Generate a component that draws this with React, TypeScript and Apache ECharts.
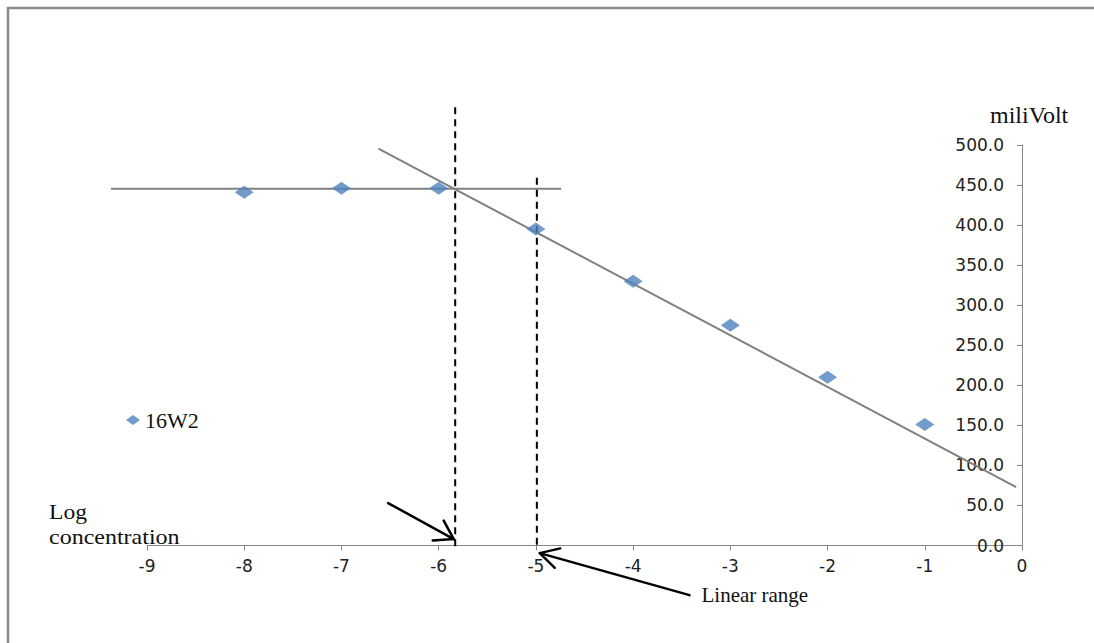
import React, { useEffect, useRef } from "react";
import * as echarts from "echarts";

// Measured electrode response for sample 16W2
const logConcentration = [-8, -7, -6, -5, -4, -3, -2, -1];
const miliVolt = [441, 446, 446, 395, 330, 275, 210, 151];

// Fitted lines: plateau and linear response
const plateauLine = [
  [-9.37, 445.5],
  [-4.74, 445.5],
];
const slopeLine = [
  [-6.62, 495.6],
  [-0.06, 73],
];

// Vertical markers: detection limit and start of the linear range
const detectionLimitLine = [
  [-5.83, 547],
  [-5.83, -5],
];
const linearStartLine = [
  [-4.99, 459],
  [-4.99, -5],
];

// Annotation arrows, [tail, tip] in data units
const limitArrow = [
  [-6.52, 53],
  [-5.845, 8],
];
const linearArrow = [
  [-3.42, -62],
  [-4.96, -9.5],
];

const SERIF = "'Liberation Serif', 'Times New Roman', serif";
const SANS = "'DejaVu Sans', Verdana, sans-serif";

function arrowShapes(
  tail: number[],
  tip: number[],
  spread: number,
  armLength: number
) {
  const back = Math.atan2(tail[1] - tip[1], tail[0] - tip[0]);
  const arm = (a: number) => [
    tip[0] + armLength * Math.cos(a),
    tip[1] + armLength * Math.sin(a),
  ];
  const style = { stroke: "#000", lineWidth: 2.5, fill: null, lineCap: "round", lineJoin: "round" };
  return [
    { type: "line", shape: { x1: tail[0], y1: tail[1], x2: tip[0], y2: tip[1] }, style },
    {
      type: "polyline",
      shape: { points: [arm(back - spread), tip, arm(back + spread)] },
      style,
    },
  ];
}

export default function App() {
  const ref = useRef<HTMLDivElement>(null);

  useEffect(() => {
    if (!ref.current) return;
    const chart = echarts.init(ref.current, null, { renderer: "svg" });
    const grey = "#808080";

    const helperLine = (data: number[][], dashed: boolean) => ({
      type: "line",
      data,
      symbol: "none",
      clip: false,
      silent: true,
      lineStyle: dashed
        ? { color: "#000", width: 2, type: [7, 5] }
        : { color: grey, width: 2 },
      z: dashed ? 3 : 2,
    });

    chart.setOption({
      animation: false,
      backgroundColor: "#fff",
      grid: { left: 147, right: 72, top: 145, bottom: 97.5 },
      legend: {
        data: ["16W2"],
        left: 121,
        top: 404,
        icon: "diamond",
        itemWidth: 14,
        itemHeight: 10,
        itemGap: 4,
        textStyle: { fontFamily: SERIF, fontSize: 22, color: "#111" },
      },
      xAxis: {
        type: "value",
        min: -9,
        max: 0,
        interval: 1,
        axisLine: { onZero: false, lineStyle: { color: "#868686", width: 1 } },
        axisTick: { show: true, length: 5, lineStyle: { color: "#868686" } },
        axisLabel: { fontFamily: SANS, fontSize: 17, color: "#222", margin: 12 },
        splitLine: { show: false },
      },
      yAxis: {
        type: "value",
        position: "right",
        min: 0,
        max: 500,
        interval: 50,
        axisLine: { show: true, lineStyle: { color: "#868686", width: 1 } },
        axisTick: { show: true, inside: true, length: 5, lineStyle: { color: "#868686" } },
        axisLabel: {
          inside: true,
          margin: 18,
          fontFamily: SANS,
          fontSize: 17,
          color: "#222",
          formatter: (v: number) => v.toFixed(1),
        },
        splitLine: { show: false },
      },
      series: [
        helperLine(slopeLine, false),
        helperLine(detectionLimitLine, true),
        helperLine(linearStartLine, true),
        {
          name: "16W2",
          type: "scatter",
          data: logConcentration.map((x, i) => [x, miliVolt[i]]),
          symbol: "diamond",
          symbolSize: [19, 13],
          itemStyle: { color: "#4F81BD" },
          z: 4,
        },
      ],
    });

    const px = (p: number[]) =>
      chart.convertToPixel({ gridIndex: 0 }, p) as number[];

    const a1 = [px(limitArrow[0]), px(limitArrow[1])];
    const a2 = [px(linearArrow[0]), px(linearArrow[1])];
    const plateau = plateauLine.map(px);

    chart.setOption({
      graphic: [
        // frame on the top and left edges
        {
          type: "line",
          shape: { x1: 7, y1: 8, x2: 1094, y2: 8 },
          style: { stroke: "#8a8a8a", lineWidth: 2.5 },
        },
        {
          type: "line",
          shape: { x1: 8, y1: 7, x2: 8, y2: 643 },
          style: { stroke: "#8a8a8a", lineWidth: 2.5 },
        },
        // plateau fit extends past the left end of the axis
        {
          type: "line",
          z: 1,
          shape: { x1: plateau[0][0], y1: plateau[0][1], x2: plateau[1][0], y2: plateau[1][1] },
          style: { stroke: grey, lineWidth: 2 },
        },
        {
          type: "text",
          x: 990,
          y: 115,
          style: {
            text: "miliVolt",
            fontFamily: SERIF,
            fontSize: 24,
            fill: "#111",
            verticalAlign: "middle",
          },
        },
        {
          type: "text",
          x: 49,
          y: 513,
          scaleX: 1.18,
          style: {
            text: "Log",
            fontFamily: SERIF,
            fontSize: 20,
            fill: "#111",
            verticalAlign: "middle",
          },
        },
        {
          type: "text",
          x: 49,
          y: 537,
          scaleX: 1.2,
          style: {
            text: "concentration",
            fontFamily: SERIF,
            fontSize: 20,
            fill: "#111",
            verticalAlign: "middle",
          },
        },
        ...arrowShapes(a1[0], a1[1], 0.57, 21),
        ...arrowShapes(a2[0], a2[1], 0.5, 21),
        {
          type: "text",
          x: a2[0][0] + 12,
          y: a2[0][1],
          style: {
            text: "Linear range",
            fontFamily: SERIF,
            fontSize: 21,
            fill: "#111",
            verticalAlign: "middle",
          },
        },
      ],
    });

    return () => chart.dispose();
  }, []);

  return (
    <div
      ref={ref}
      style={{ position: "fixed", left: 0, top: 0, width: 1094, height: 643 }}
    />
  );
}
